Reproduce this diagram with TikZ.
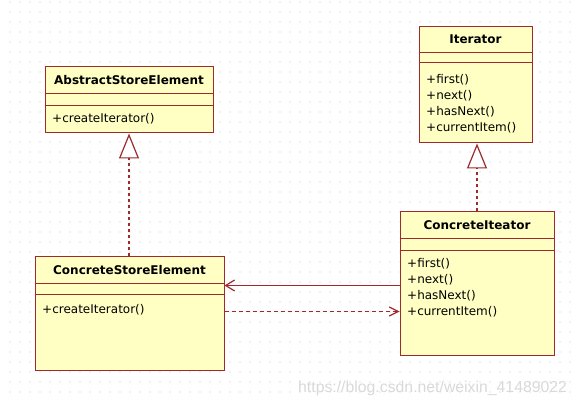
\documentclass[tikz,border=0pt]{standalone}
\usepackage{xcolor}
\usepackage{fontspec}
\setmainfont{DejaVu Sans}
\newfontfamily\markfont{Liberation Sans}
\usetikzlibrary{arrows.meta, calc}

\definecolor{umlfill}{HTML}{FFFFC4}
\definecolor{umlline}{HTML}{9E2A2B}
\definecolor{griddot}{HTML}{C4C4C4}

\begin{document}
\begin{tikzpicture}[
  x=1pt, y=-1pt,
  font=\fontsize{12}{16}\selectfont,
  classbox/.style={
    draw=umlline,
    fill=umlfill,
    line width=1pt,
    inner sep=0pt
  },
  classname/.style={font=\bfseries\fontsize{12}{16}\selectfont, inner sep=0pt},
  members/.style={align=left, anchor=north west, inner sep=0pt},
  divider/.style={draw=umlline, line width=1pt},
  realize/.style={draw=umlline, line width=1.2pt, dash pattern=on 3.5pt off 2.5pt,
    -{Triangle[open, length=25pt, width=20pt, fill=white]}},
  assoc/.style={draw=umlline, line width=1.2pt, -{Straight Barb[length=9pt, width=11pt]}},
  depend/.style={draw=umlline, line width=1.2pt, dash pattern=on 4pt off 3pt,
    -{Straight Barb[length=9pt, width=9pt]}}
]
\useasboundingbox (0,0) rectangle (579,401);
\fill[white] (0,0) rectangle (579,401);

% Dotted canvas grid.
\foreach \gx in {10,20,...,570}
  \foreach \gy in {2,12,...,392}
    \fill[griddot] (\gx,\gy) circle (0.55pt);

% Watermark.
\node[font=\markfont\fontsize{15.8}{16}\selectfont, text=gray!30, anchor=base west, inner sep=0pt]
  (mark) at (298,392) {https://blog.csdn.net/weixin\_41489022};

% AbstractStoreElement
\node[classbox, minimum width=168pt, minimum height=66pt] (ase) at (129,100) {};
\draw[divider] ($(ase.north west)+(0,27)$) -- ($(ase.north east)+(0,27)$);
\draw[divider] ($(ase.north west)+(0,39)$) -- ($(ase.north east)+(0,39)$);
\node[classname] (ase-name) at ($(ase.north)+(0,13.5)$) {AbstractStoreElement};
\node[members] (ase-ops) at ($(ase.north west)+(7.5,47)$) {+createIterator()};

% Iterator
\node[classbox, minimum width=113pt, minimum height=116pt] (it) at (475.5,85) {};
\draw[divider] ($(it.north west)+(0,26)$) -- ($(it.north east)+(0,26)$);
\draw[divider] ($(it.north west)+(0,36)$) -- ($(it.north east)+(0,36)$);
\node[classname] (it-name) at ($(it.north)+(0,13)$) {Iterator};
\node[members] (it-ops) at ($(it.north west)+(7.5,47.5)$)
  {+first()\\+next()\\+hasNext()\\+currentItem()};

% ConcreteStoreElement
\node[classbox, minimum width=189pt, minimum height=113pt] (cse) at (129.5,313.5) {};
\draw[divider] ($(cse.north west)+(0,27)$) -- ($(cse.north east)+(0,27)$);
\draw[divider] ($(cse.north west)+(0,38)$) -- ($(cse.north east)+(0,38)$);
\node[classname] (cse-name) at ($(cse.north)+(0,13.5)$) {ConcreteStoreElement};
\node[members] (cse-ops) at ($(cse.north west)+(7.5,48)$) {+createIterator()};

% ConcreteIteator
\node[classbox, minimum width=154pt, minimum height=143pt] (ci) at (477,283.5) {};
\draw[divider] ($(ci.north west)+(0,27)$) -- ($(ci.north east)+(0,27)$);
\draw[divider] ($(ci.north west)+(0,39)$) -- ($(ci.north east)+(0,39)$);
\node[classname] (ci-name) at ($(ci.north)+(0,13.5)$) {ConcreteIteator};
\node[members] (ci-ops) at ($(ci.north west)+(7.5,47)$)
  {+first()\\+next()\\+hasNext()\\+currentItem()};

% Realizations.
\draw[realize] (cse.north -| ase.south) -- (ase.south);
\draw[realize] (ci.north) -- (ci.north |- it.south);

% Association and dependency between the concrete classes.
\draw[assoc] ($(ci.north west)+(0,74)$) -- ($(cse.north east)+(0,29)$);
\draw[depend] ($(cse.north east)+(0,55)$) -- ($(ci.north west)+(0,100)$);

\end{tikzpicture}
\end{document}
